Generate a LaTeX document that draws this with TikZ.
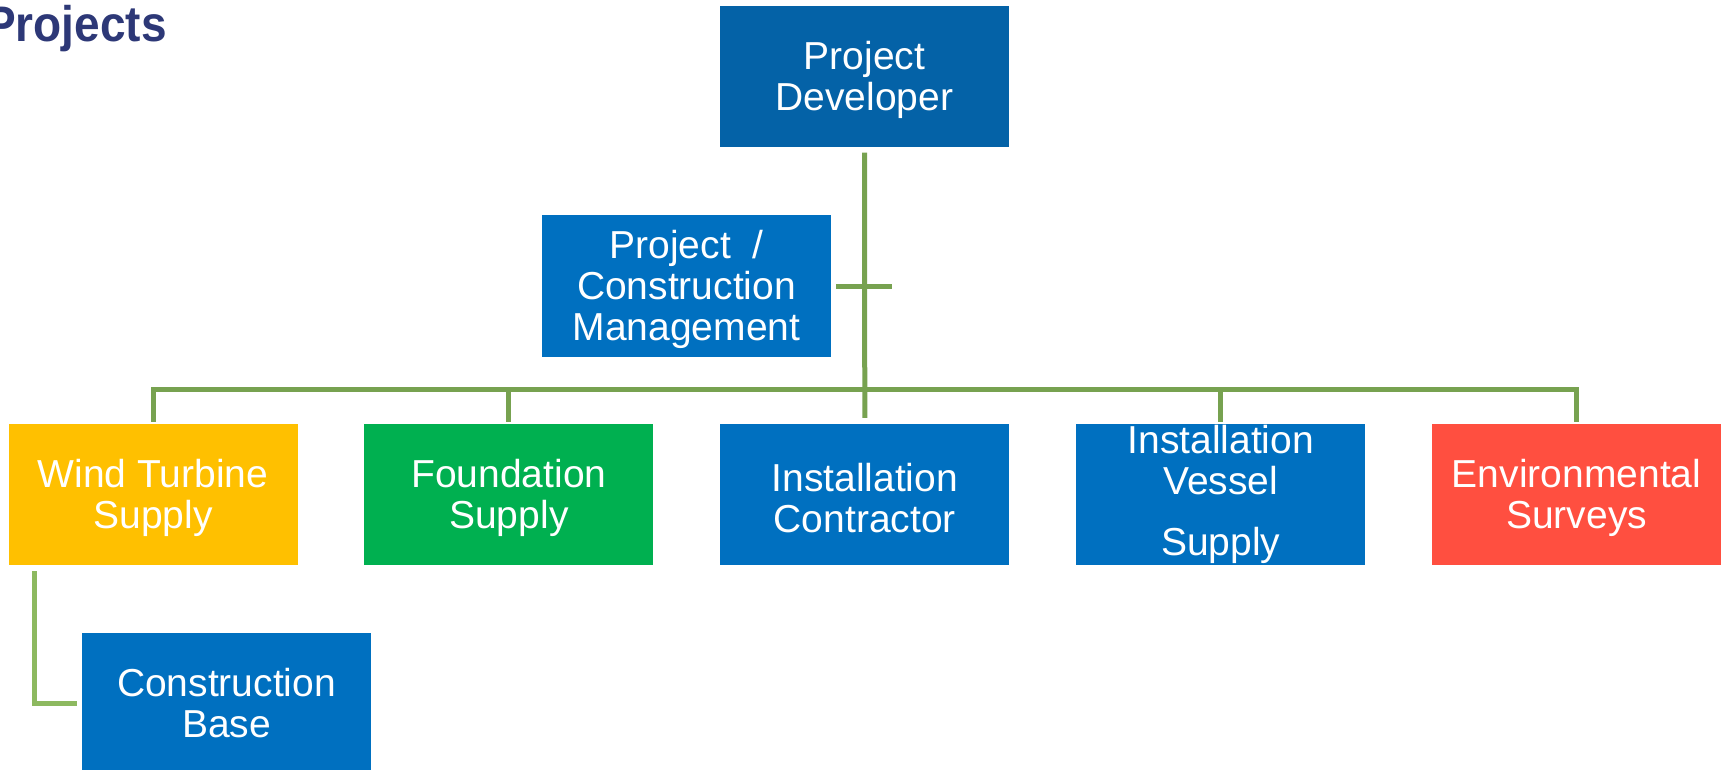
\documentclass[tikz,border=0pt]{standalone}
\usepackage{fontspec}
\setmainfont{Liberation Sans}
\usetikzlibrary{positioning,calc}
\definecolor{TitleBlue}{HTML}{2D3877}
\definecolor{DevBlue}{HTML}{0462A7}
\definecolor{BoxBlue}{HTML}{0070C0}
\definecolor{TurbYellow}{HTML}{FFC000}
\definecolor{FndGreen}{HTML}{00B050}
\definecolor{SurvRed}{HTML}{FF4F40}
\definecolor{LinkGreen}{HTML}{77A250}
\definecolor{SubGreen}{HTML}{8DB960}
\newcommand{\topgap}{\rule{0pt}{35pt}}
\tikzset{
    block/.style = {rectangle, inner sep=0pt,
        minimum height=141pt,
        minimum width=289pt, align=center, text=white,
        font=\fontsize{39}{41}\selectfont},
    link/.style = {draw, line width=5pt, LinkGreen},
    sublink/.style = {draw, line width=5pt, SubGreen}
}

\begin{document}
\begin{tikzpicture}[x=1pt, y=-1pt, node distance=355.9pt]
        \useasboundingbox (0,0) rectangle (1721,770);
        \node [anchor=base west, xscale=0.92, transform shape, text=TitleBlue, font=\fontsize{50}{55}\selectfont\bfseries] (title) at (-18,42) {Projects};
        \node [block, fill=DevBlue] (dev) at (864.5,77) {\topgap Project\\Developer};
        \node [block, fill=BoxBlue] (mgmt) at (686.5,286) {\topgap Project\ \ /\\Construction\\Management};
        \node [block, fill=TurbYellow] (turb) at (153,494.5) {\topgap Wind Turbine\\Supply};
        \node [block, fill=FndGreen, right of=turb] (fnd) {\topgap Foundation\\Supply};
        \node [block, fill=BoxBlue, right of=fnd] (inst) {\topgap Installation\\Contractor};
        \node [block, fill=BoxBlue, right of=inst] (vessel) {Installation\\Vessel\\[20pt]Supply};
        \node [block, fill=SurvRed, right of=vessel] (surv) {\topgap Environmental\\Surveys};
        \node [block, fill=BoxBlue] (base) at (226.5,703) {Construction\\Base};
        % connectors
        \coordinate (cross) at ($(dev.south |- mgmt.east)+(27.5,0)$);
        \draw [link, shorten <=5pt, shorten >=6pt] (dev.south) -- (inst.north);
        \draw [link, shorten <=5pt] (mgmt.east) -- (cross);
        \draw [link] ([yshift=2pt]turb.north) |- ([yshift=34pt]inst.north) -| ([yshift=2pt]surv.north);
        \foreach \n in {fnd,vessel}{
            \draw [link] ([yshift=2pt]\n.north) -- ([yshift=34pt]\n.north);
        }
        \draw [sublink] ([xshift=26pt,yshift=-6pt]turb.south west) |- ([xshift=-5pt]base.west);
\end{tikzpicture}
\end{document}
